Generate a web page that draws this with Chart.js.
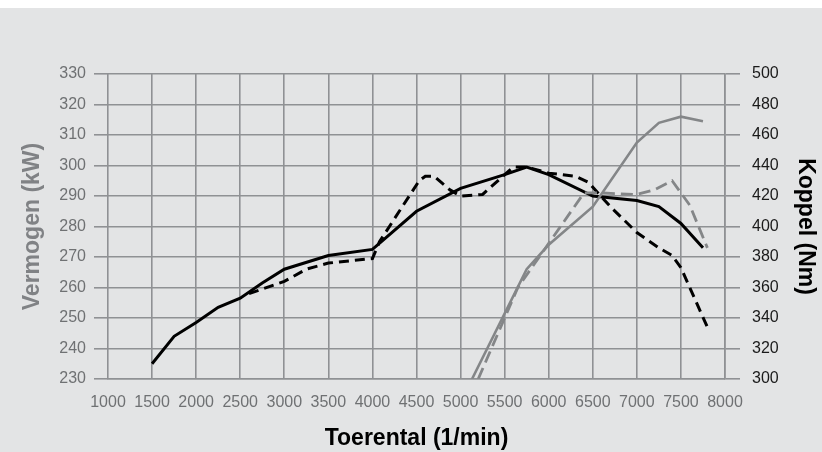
<!DOCTYPE html>
<html>
<head>
<meta charset="utf-8">
<script src="https://cdn.jsdelivr.net/npm/chart.js@4.4.1/dist/chart.umd.min.js"></script>
<style>
  html, body { margin: 0; padding: 0; background: #ffffff; }
  #wrap { position: absolute; left: 0; top: 8px; width: 822px; height: 444px; background: #e3e4e5; }
</style>
</head>
<body>
<div id="wrap"><canvas id="myChart" width="822" height="444"></canvas></div>
<script>
// toerental (1/min) en koppel (Nm) - zwart
var rpmTorqueSolid = [1500, 1750, 2000, 2250, 2500, 2750, 3000, 3500, 4000, 4500, 5000, 5500, 5750, 6000, 6500, 7000, 7250, 7500, 7750];
var torqueSolid    = [310, 328, 337, 347, 353, 363, 372, 381, 385, 410, 425, 434, 439, 434, 420, 417, 413, 402, 386];

var rpmTorqueDash = [2600, 3000, 3250, 3500, 4000, 4080, 4530, 4600, 4700, 4880, 5000, 5250, 5500, 5600, 5750, 6000, 6300, 6450, 6700, 7000, 7250, 7400, 7500, 7800];
var torqueDash    = [356, 364, 372, 376, 379, 390, 430, 433, 433, 424, 420, 421, 434, 439, 439, 435, 433, 429, 413, 396, 386, 381, 373, 334];

// vermogen (kW) - grijs
var rpmPowerSolid = [5130, 5750, 6000, 6500, 7000, 7250, 7500, 7750];
var powerSolid    = [230, 266, 274, 286.5, 307.5, 314, 316, 314.5];

var rpmPowerDash = [5200, 5650, 6400, 6600, 7000, 7200, 7400, 7600, 7800];
var powerDash    = [230, 260, 291, 291, 290.5, 292, 295, 287, 273];

var xTitle = "Toerental (1/min)";
var leftTitle = "Vermogen (kW)";
var rightTitle = "Koppel (Nm)";

function pts(xs, ys) {
    return xs.map(function (x, i) { return { x: x, y: ys[i] }; });
}
function plain(v) { return String(v); }

var gridColor = "#8f9194";
var grayLine = "#848688";
var tickFont = { family: "'Liberation Sans', Arial, sans-serif", size: 16 };
var titleFont = { family: "'Liberation Sans', Arial, sans-serif", size: 23, weight: "bold" };

var ctx = document.getElementById("myChart");
var myChart = new Chart(ctx, {
    type: 'line',
    data: {
        datasets: [
            { data: pts(rpmPowerSolid, powerSolid), yAxisID: 'yPower', borderColor: grayLine, borderWidth: 2.6, pointRadius: 0, tension: 0 },
            { data: pts(rpmPowerDash, powerDash), yAxisID: 'yPower', borderColor: grayLine, borderWidth: 2.8, borderDash: [12, 6], pointRadius: 0, tension: 0 },
            { data: pts(rpmTorqueSolid, torqueSolid), yAxisID: 'yTorque', borderColor: "#000000", borderWidth: 3, pointRadius: 0, tension: 0 },
            { data: pts(rpmTorqueDash, torqueDash), yAxisID: 'yTorque', borderColor: "#000000", borderWidth: 3, borderDash: [10, 6], pointRadius: 0, tension: 0 }
        ]
    },
    options: {
        responsive: false,
        animation: false,
        layout: { padding: { top: 66, left: 0, right: 0, bottom: 0 } },
        plugins: { legend: { display: false }, tooltip: { enabled: false } },
        scales: {
            x: {
                type: 'linear', min: 1000, max: 8000,
                ticks: { stepSize: 500, color: "#6f7173", font: tickFont, padding: 14, maxRotation: 0, autoSkip: false, callback: plain },
                grid: { color: gridColor, lineWidth: 1.6, drawTicks: false },
                border: { color: gridColor, width: 1.6 },
                title: { display: true, text: xTitle, color: "#000000", font: titleFont, padding: { top: 0, bottom: 0 } },
                afterFit: function (s) { s.height = 73; }
            },
            yPower: {
                position: 'left', min: 230, max: 330,
                ticks: { stepSize: 10, color: "#6f7173", font: tickFont, padding: 8, callback: plain },
                grid: { color: gridColor, lineWidth: 1.6, tickLength: 14 },
                border: { display: false },
                title: { display: true, text: leftTitle, color: "#808285", font: titleFont, padding: { top: 19, bottom: 0 } },
                afterFit: function (s) { s.width = 108; }
            },
            yTorque: {
                position: 'right', min: 300, max: 500,
                ticks: { stepSize: 20, color: "#1a1a1a", font: tickFont, padding: 12, callback: plain },
                grid: { color: gridColor, lineWidth: 1.6, tickLength: 15, drawOnChartArea: false },
                border: { color: gridColor, width: 1.6 },
                title: { display: true, text: rightTitle, color: "#000000", font: titleFont, padding: { top: 3, bottom: 0 } },
                afterFit: function (s) { s.width = 97; }
            }
        }
    }
});
</script>
</body>
</html>
